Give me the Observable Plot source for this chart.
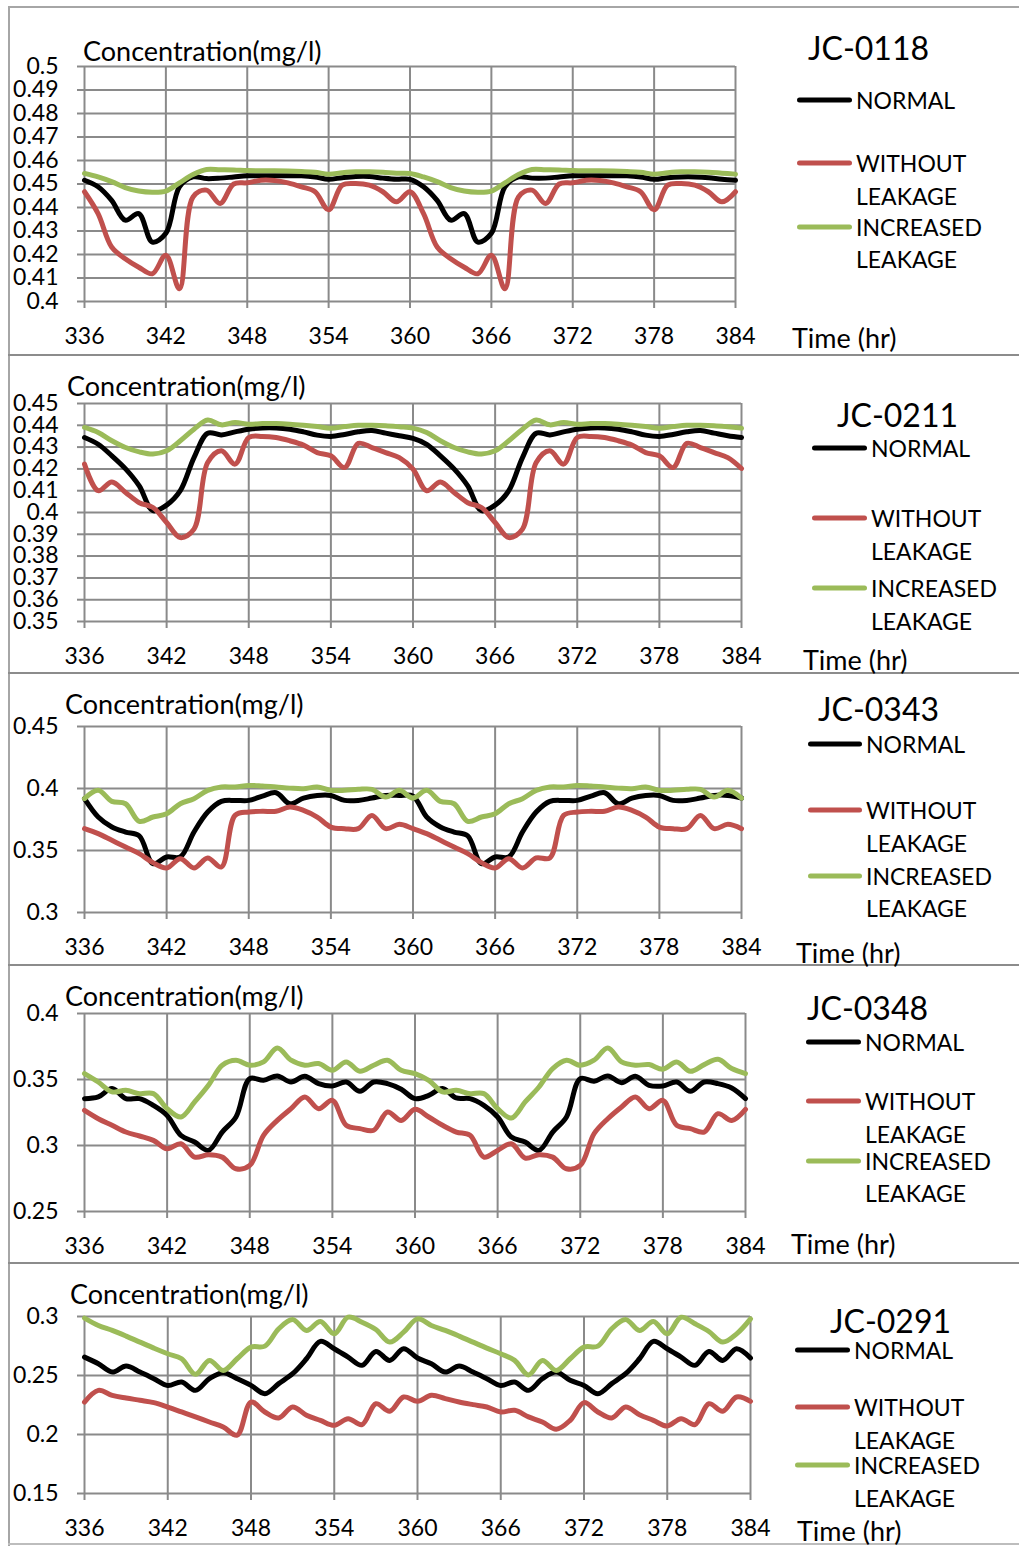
<!DOCTYPE html>
<html>
<head>
<meta charset="utf-8">
<script src="https://cdn.jsdelivr.net/npm/d3@7"></script>
<script src="https://cdn.jsdelivr.net/npm/@observablehq/plot@0.6"></script>
<style>
  html, body { margin: 0; padding: 0; background: #fff; }
  #page { position: relative; width: 1019px; height: 1546px; overflow: hidden; background: #fff; font-family: Lato, "Open Sans", sans-serif; color: #000; }
  .abs { position: absolute; white-space: nowrap; line-height: 1; transform: translateY(-50%); }
  .plotwrap { position: absolute; left: 0; }
  .hline { position: absolute; height: 0; }
  .vline { position: absolute; width: 0; }
  .legline { position: absolute; height: 5px; border-radius: 3px; transform: translateY(-50%); }
</style>
</head>
<body>
<div id="page"></div>
<script>
// ---------------- DATA ----------------
const hours = [336,337,338,339,340,341,342,343,344,345,346,347,348,349,350,351,352,353,354,355,356,357,358,359,360,
  361,362,363,364,365,366,367,368,369,370,371,372,373,374,375,376,377,378,379,380,381,382,383,384];
const xTicks = [336,342,348,354,360,366,372,378,384];
const seriesNames = ["NORMAL", "WITHOUT LEAKAGE", "INCREASED LEAKAGE"];
const seriesColors = ["#000000", "#C0504D", "#9BBB59"];
const panelNames = ["JC-0118", "JC-0211", "JC-0343", "JC-0348", "JC-0291"];

// JC-0118
const normal1 = [0.4516,0.4488,0.443,0.4346,0.4374,0.4253,0.429,0.4488,0.453,0.4523,0.4525,0.453,0.4535,0.4535,0.4535,0.4535,0.4535,0.453,0.452,0.4527,0.4532,0.4532,0.4525,0.452,0.452,
  0.4488,0.443,0.4346,0.4374,0.4253,0.429,0.4488,0.453,0.4525,0.4525,0.453,0.4535,0.4535,0.4535,0.4535,0.4535,0.453,0.452,0.4527,0.453,0.453,0.4527,0.452,0.4516];
const without1 = [0.4467,0.4374,0.4232,0.4182,0.4146,0.4118,0.4197,0.4054,0.4445,0.4474,0.4417,0.450,0.4505,0.4516,0.4515,0.4505,0.4488,0.4467,0.439,0.4495,0.4502,0.4495,0.4467,0.4424,0.4467,
  0.4374,0.4232,0.4182,0.4146,0.4118,0.4197,0.4054,0.4445,0.4474,0.4417,0.450,0.4505,0.4516,0.4515,0.4505,0.4488,0.4467,0.439,0.4495,0.4502,0.4495,0.4467,0.4424,0.4467];
const increased1 = [0.4545,0.453,0.451,0.4485,0.447,0.4465,0.447,0.4505,0.454,0.4562,0.4561,0.456,0.4557,0.4556,0.4556,0.4555,0.4553,0.455,0.4542,0.4548,0.4552,0.4552,0.455,0.4546,0.4545,
  0.453,0.451,0.4485,0.447,0.4465,0.447,0.4505,0.454,0.4562,0.4561,0.456,0.4557,0.4556,0.4556,0.4555,0.4553,0.455,0.4542,0.4548,0.4552,0.4552,0.455,0.4546,0.4542];

// JC-0211
const normal2 = [0.4344,0.4313,0.426,0.420,0.4122,0.4008,0.4034,0.410,0.4252,0.4364,0.4356,0.437,0.4382,0.4388,0.4388,0.4382,0.437,0.4355,0.4349,0.4358,0.437,0.4376,0.4364,0.4352,0.434,
  0.4313,0.426,0.420,0.4122,0.4008,0.4034,0.410,0.4252,0.4364,0.4356,0.437,0.4382,0.4388,0.4388,0.4382,0.437,0.4355,0.4349,0.4358,0.437,0.4376,0.4364,0.4352,0.4344];
const without2 = [0.4222,0.410,0.414,0.4092,0.4045,0.4023,0.3954,0.3885,0.3924,0.4229,0.4283,0.4222,0.4344,0.4349,0.4344,0.4329,0.4309,0.4275,0.426,0.4206,0.4317,0.4298,0.4275,0.4252,0.4199,
  0.410,0.414,0.4092,0.4045,0.4023,0.3954,0.3885,0.3924,0.4229,0.4283,0.4222,0.4344,0.4349,0.4344,0.4329,0.4309,0.4275,0.426,0.4206,0.4317,0.4298,0.4275,0.4252,0.4202];
const increased2 = [0.439,0.4367,0.4329,0.4298,0.4278,0.4268,0.4283,0.4329,0.4382,0.4424,0.4402,0.4413,0.4405,0.4408,0.4408,0.4405,0.440,0.4394,0.4387,0.4394,0.440,0.440,0.4398,0.4393,0.4387,
  0.4367,0.4329,0.4298,0.4278,0.4268,0.4283,0.4329,0.4382,0.4424,0.4402,0.4413,0.4405,0.4408,0.4408,0.4405,0.440,0.4394,0.4387,0.4394,0.440,0.440,0.4398,0.4393,0.4387];

// JC-0343
const normal3 = [0.3918,0.377,0.369,0.3649,0.3618,0.3394,0.3448,0.3448,0.3649,0.381,0.3896,0.3904,0.3904,0.3939,0.3966,0.3877,0.3923,0.3944,0.3944,0.3904,0.3904,0.3923,0.3944,0.3944,0.3939,
  0.377,0.369,0.3649,0.3618,0.3394,0.3448,0.3448,0.3649,0.381,0.3896,0.3904,0.3904,0.3939,0.3966,0.3877,0.3923,0.3944,0.3944,0.3904,0.3904,0.3923,0.3944,0.3944,0.3923];
const without3 = [0.3676,0.3636,0.3582,0.3528,0.3475,0.3402,0.3359,0.3434,0.3359,0.344,0.3367,0.3783,0.381,0.3816,0.3816,0.3851,0.3824,0.377,0.3689,0.3676,0.3676,0.3783,0.3676,0.3711,0.3676,
  0.3636,0.3582,0.3528,0.3475,0.3402,0.3359,0.3434,0.3359,0.344,0.344,0.3783,0.381,0.3816,0.3816,0.3851,0.3824,0.377,0.3689,0.3676,0.3676,0.3783,0.3676,0.3711,0.3676];
const increased3 = [0.3918,0.3985,0.3896,0.3877,0.3735,0.377,0.3797,0.3877,0.3918,0.3985,0.4012,0.4012,0.4025,0.402,0.4012,0.4003,0.3998,0.4012,0.3985,0.3985,0.3993,0.3993,0.3931,0.3985,0.3923,
  0.3985,0.3896,0.3877,0.3735,0.377,0.3797,0.3877,0.3918,0.3985,0.4012,0.4012,0.4025,0.402,0.4012,0.4003,0.3998,0.4012,0.3985,0.3985,0.3993,0.3993,0.3931,0.3985,0.3923];

// JC-0348
const normal4 = [0.3355,0.3368,0.3431,0.3355,0.3355,0.3304,0.3228,0.3077,0.3026,0.2963,0.3102,0.3216,0.3507,0.3494,0.3527,0.3481,0.3524,0.3469,0.3451,0.3481,0.3411,0.3481,0.3469,0.3426,0.3355,
  0.338,0.3431,0.336,0.3355,0.3304,0.3216,0.3064,0.3026,0.2963,0.3102,0.3216,0.3507,0.3487,0.3527,0.3476,0.3524,0.3456,0.3451,0.3481,0.3411,0.3481,0.3469,0.3436,0.3355];
const without4 = [0.3266,0.3203,0.3153,0.3102,0.3072,0.3039,0.2975,0.3013,0.2912,0.293,0.2912,0.2824,0.2849,0.3077,0.319,0.3279,0.3368,0.3279,0.3342,0.3153,0.3128,0.3115,0.3254,0.319,0.3274,
  0.3216,0.3153,0.3102,0.3077,0.2912,0.2963,0.3013,0.2905,0.293,0.2912,0.2824,0.2849,0.3089,0.3203,0.3292,0.3368,0.3279,0.3342,0.3153,0.3128,0.3102,0.3241,0.319,0.3274];
const increased4 = [0.3545,0.3481,0.3406,0.3418,0.3393,0.3393,0.3279,0.3216,0.333,0.3456,0.3608,0.3646,0.3608,0.3633,0.3739,0.3646,0.3608,0.3621,0.357,0.3633,0.3562,0.3608,0.3646,0.357,0.3545,
  0.3494,0.3406,0.3418,0.3393,0.3393,0.3279,0.3208,0.333,0.3443,0.3583,0.3646,0.3608,0.3646,0.3739,0.3633,0.3608,0.3613,0.3578,0.3633,0.3562,0.3613,0.3653,0.3583,0.3545];

// JC-0291
const normal5 = [0.2656,0.26,0.2529,0.258,0.2529,0.2473,0.2416,0.2445,0.2374,0.2473,0.2524,0.2473,0.2416,0.2346,0.2431,0.2515,0.2642,0.2789,0.2727,0.2656,0.2586,0.2704,0.2628,0.2727,0.2648,
  0.26,0.2529,0.258,0.2529,0.2473,0.2416,0.2445,0.2374,0.2473,0.2529,0.2459,0.2416,0.2346,0.2431,0.2515,0.2642,0.2789,0.2727,0.2656,0.2586,0.2704,0.2628,0.2727,0.2648];
const without5 = [0.2275,0.2374,0.2332,0.2309,0.229,0.227,0.2233,0.2191,0.2149,0.2106,0.2064,0.1994,0.2275,0.2191,0.214,0.2233,0.2163,0.212,0.2078,0.2134,0.2084,0.2261,0.2197,0.2318,0.2281,
  0.2332,0.2304,0.2275,0.2253,0.2233,0.2191,0.2205,0.2149,0.2106,0.2044,0.212,0.227,0.2191,0.214,0.2233,0.2168,0.212,0.2072,0.2134,0.2084,0.2261,0.2197,0.2318,0.2281];
const increased5 = [0.2986,0.2924,0.2882,0.2834,0.2783,0.2732,0.2684,0.2642,0.251,0.2628,0.2543,0.2642,0.2741,0.2749,0.2896,0.2975,0.2882,0.2958,0.2853,0.2994,0.2952,0.289,0.2783,0.2867,0.298,
  0.2924,0.2882,0.2834,0.2783,0.2732,0.2684,0.2628,0.2505,0.2628,0.2543,0.2642,0.2741,0.2749,0.2896,0.2975,0.2882,0.2958,0.2853,0.2994,0.2938,0.2873,0.2783,0.2853,0.298];

const yTicks1 = [0.4,0.41,0.42,0.43,0.44,0.45,0.46,0.47,0.48,0.49,0.5];
const yTicks2 = [0.35,0.36,0.37,0.38,0.39,0.4,0.41,0.42,0.43,0.44,0.45];
const yTicks3 = [0.3,0.35,0.4,0.45];
const yTicks4 = [0.25,0.3,0.35,0.4];
const yTicks5 = [0.15,0.2,0.25,0.3];

// ---------------- LAYOUT (page pixel positions) ----------------
const layouts = [
  {left:84, right:735, yTop:66,   yBot:301,  conc:[83,50],   title:[808,48],   legX:797, textX:856, rows:[100,163,196,227,259],      time:[792,337]},
  {left:84, right:741, yTop:403,  yBot:621,  conc:[67,385],  title:[837,415],  legX:812, textX:871, rows:[448,518,551,588,621],      time:[803,659]},
  {left:84, right:741, yTop:726,  yBot:912,  conc:[65,703],  title:[818,709],  legX:808, textX:866, rows:[744,810,843,876,908],      time:[796,952]},
  {left:84, right:745, yTop:1013, yBot:1211, conc:[65,995],  title:[807,1008], legX:806, textX:865, rows:[1042,1101,1134,1161,1193], time:[791,1243]},
  {left:84, right:750, yTop:1316, yBot:1493, conc:[70,1293], title:[830,1321], legX:795, textX:854, rows:[1350,1407,1440,1465,1498], time:[797,1530]}
];
const panelSeries = [
  [normal1, without1, increased1],
  [normal2, without2, increased2],
  [normal3, without3, increased3],
  [normal4, without4, increased4],
  [normal5, without5, increased5]
];
const panelTicks = [yTicks1, yTicks2, yTicks3, yTicks4, yTicks5];
const separators = [355, 673, 965, 1263];

const page = document.getElementById("page");
const fmt = d => String(+d.toFixed(2));
const GRID = "#8a8a8a";

function addText(txt, x, y, size, extra) {
  const d = document.createElement("div");
  d.className = "abs";
  d.textContent = txt;
  d.style.left = x + "px";
  d.style.top = y + "px";
  d.style.fontSize = size + "px";
  if (extra) Object.assign(d.style, extra);
  page.appendChild(d);
}

function hline(y, x0, x1, color, w) {
  const d = document.createElement("div");
  d.className = "hline";
  d.style.left = x0 + "px"; d.style.width = (x1 - x0) + "px";
  d.style.top = (y - w / 2) + "px"; d.style.borderTop = w + "px solid " + color;
  page.appendChild(d);
}
function vline(x, y0, y1, color, w) {
  const d = document.createElement("div");
  d.className = "vline";
  d.style.top = y0 + "px"; d.style.height = (y1 - y0) + "px";
  d.style.left = (x - w / 2) + "px"; d.style.borderLeft = w + "px solid " + color;
  page.appendChild(d);
}
hline(7, 8, 1019, "#a6a6a6", 2);
vline(9, 6, 1546, "#a6a6a6", 2);
separators.forEach(y => hline(y, 8, 1019, "#8c8c8c", 2));
hline(1544, 8, 1019, "#bdbdbd", 2);

layouts.forEach((L, i) => {
  const yTicks = panelTicks[i];
  const data = [];
  seriesNames.forEach((s, k) => {
    panelSeries[i][k].forEach((v, j) => data.push({hour: hours[j], value: v, series: s}));
  });
  const mTop = 20, mBot = 60, mRight = 20;
  const chart = Plot.plot({
    width: L.right + mRight,
    height: (L.yBot - L.yTop) + mTop + mBot,
    marginLeft: L.left, marginRight: mRight, marginTop: mTop, marginBottom: mBot,
    style: {fontFamily: "Lato, 'Open Sans', sans-serif", background: "transparent", color: "#000", overflow: "visible"},
    x: {domain: [336, 384], ticks: xTicks},
    y: {domain: [yTicks[0], yTicks[yTicks.length - 1]], ticks: yTicks},
    color: {domain: seriesNames, range: seriesColors},
    marks: [
      Plot.gridX(xTicks, {stroke: GRID, strokeOpacity: 1, strokeWidth: 2}),
      Plot.gridY(yTicks, {stroke: GRID, strokeOpacity: 1, strokeWidth: 2}),
      Plot.axisX(xTicks, {tickSize: 7, tickPadding: 19, stroke: GRID, strokeWidth: 2, fontSize: 23, label: null, tickFormat: d => String(d), fill: "#000"}),
      Plot.axisY(yTicks, {tickSize: 7, tickPadding: 19, stroke: GRID, strokeWidth: 2, fontSize: 23, label: null, tickFormat: fmt, fill: "#000"}),
      Plot.line(data, {x: "hour", y: "value", z: "series", stroke: "series", strokeWidth: 5, curve: "catmull-rom", strokeLinejoin: "round", strokeLinecap: "round"})
    ]
  });
  const wrap = document.createElement("div");
  wrap.className = "plotwrap";
  wrap.style.top = (L.yTop - mTop) + "px";
  wrap.appendChild(chart);
  page.appendChild(wrap);

  addText("Concentration(mg/l)", L.conc[0], L.conc[1], 27);
  addText(panelNames[i], L.title[0], L.title[1], 32);
  addText("Time (hr)", L.time[0], L.time[1], 27);

  const legRows = [[0, 0, "NORMAL"], [1, 1, "WITHOUT"], [null, 2, "LEAKAGE"], [2, 3, "INCREASED"], [null, 4, "LEAKAGE"]];
  legRows.forEach(([si, ri, txt]) => {
    const y = L.rows[ri];
    if (si !== null) {
      const ln = document.createElement("div");
      ln.className = "legline";
      ln.style.left = L.legX + "px";
      ln.style.width = (L.textX - L.legX - 4) + "px";
      ln.style.top = y + "px";
      ln.style.background = seriesColors[si];
      page.appendChild(ln);
    }
    addText(txt, L.textX, y, 23);
  });
});
</script>
</body>
</html>
